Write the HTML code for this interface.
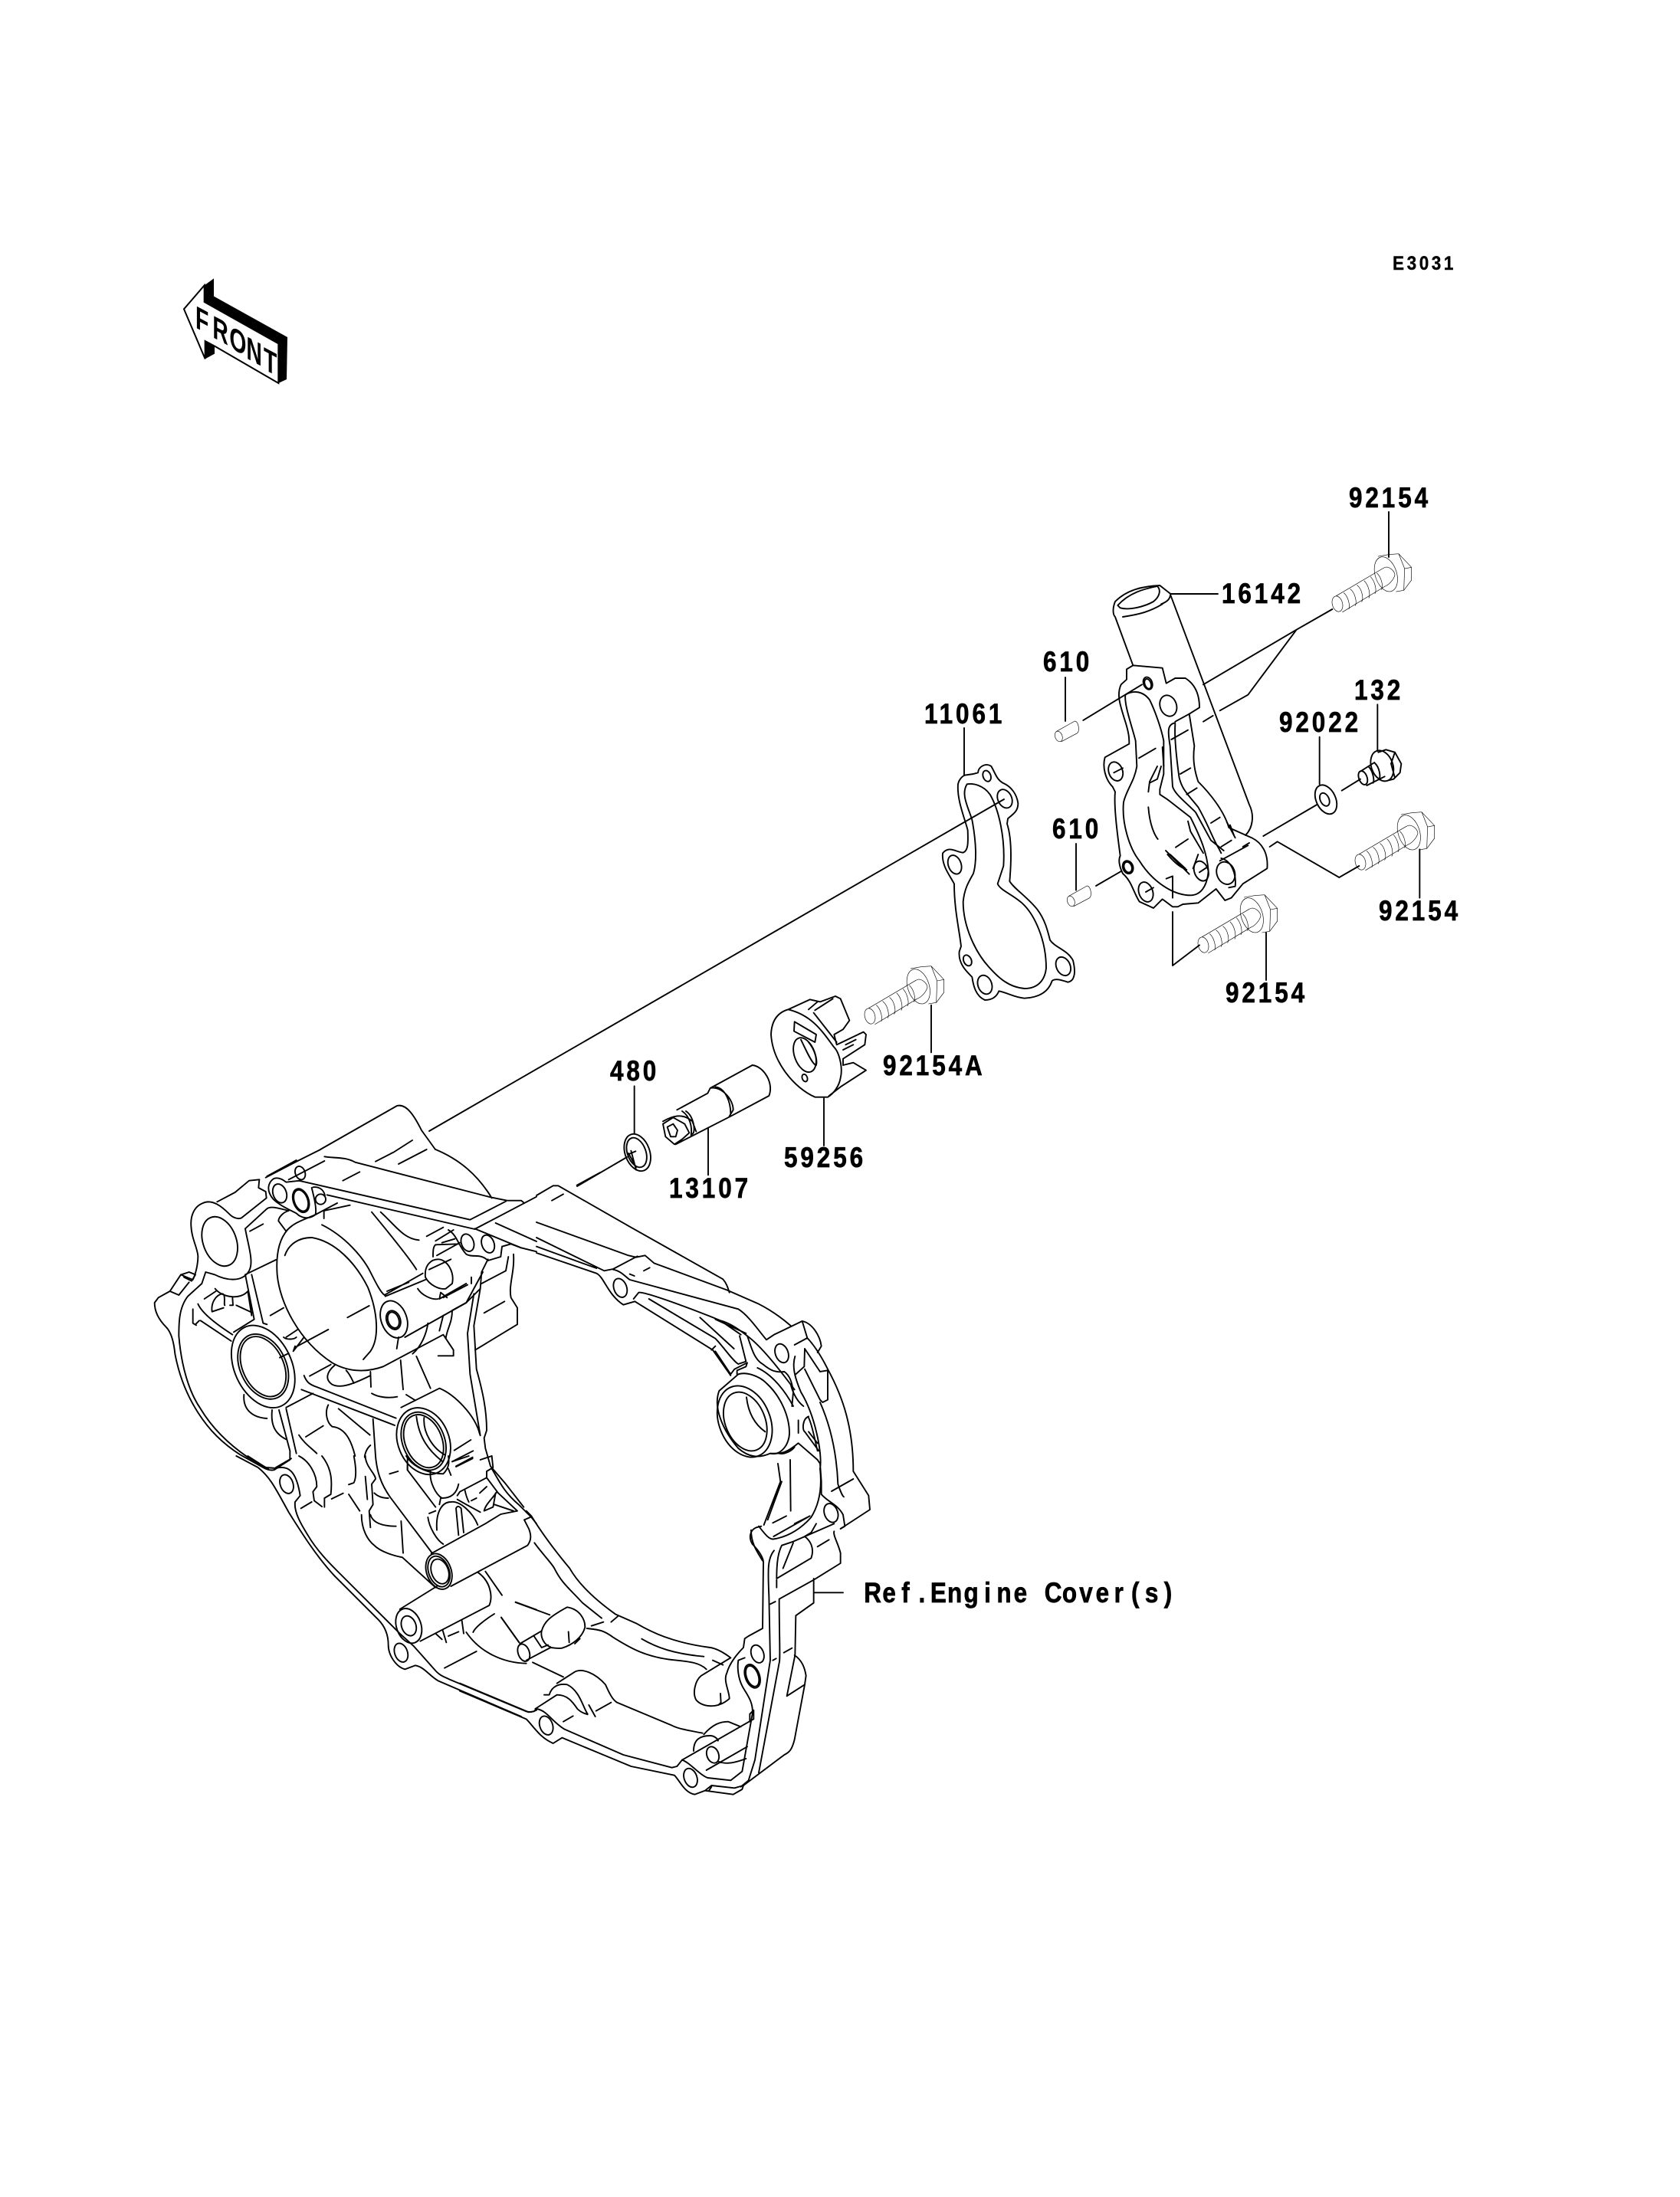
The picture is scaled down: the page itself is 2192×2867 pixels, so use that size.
<!DOCTYPE html>
<html><head><meta charset="utf-8"><style>
html,body{margin:0;padding:0;background:#fff}
svg{display:block}
.l *{vector-effect:non-scaling-stroke}
.l{fill:none;stroke:#000;stroke-width:1.9;stroke-linejoin:round;stroke-linecap:round}
.t{font-family:"Liberation Sans",sans-serif;font-weight:bold;font-size:37px;letter-spacing:4.6px;fill:#000;stroke:#000;stroke-width:.7px}
</style></head><body>
<svg width="2192" height="2867" viewBox="0 0 2192 2867" xmlns="http://www.w3.org/2000/svg">
<rect width="2192" height="2867" fill="#fff"/>
<defs>
<g id="bolt">
<ellipse cx="1065" cy="378" rx="20" ry="31" transform="rotate(-15 1065 378)"/>
<path d="M1060,347 L1245,238 M1085,410 L1250,310 M1245,238 C1265,225 1290,250 1290,265 C1285,285 1265,305 1250,310"/>
<path d="M1090,335 C1108,350 1115,385 1110,398 M1115,320 C1135,335 1142,372 1135,385 M1142,305 C1162,320 1168,358 1160,370 M1170,288 C1188,305 1195,342 1188,355 M1195,272 C1212,290 1220,325 1212,338 M1220,258 C1238,275 1245,310 1238,322"/>
<ellipse cx="1255" cy="262" rx="42" ry="70" transform="rotate(-18 1255 262)"/>
<path d="M1225,192 L1265,185 L1305,182 L1355,235 L1355,285 L1325,325 L1295,330 M1305,182 L1328,240 L1325,325 M1328,240 L1355,235"/>
</g>
<g id="pin">
<ellipse cx="22" cy="1248" rx="14" ry="21" transform="rotate(-20 22 1248)"/>
<path d="M14,1228 L85,1188 C100,1190 105,1225 95,1235 L33,1268"/>
</g>
</defs>

<text class="t" transform="translate(1817,352) scale(.9,1)" style="font-size:25px;letter-spacing:4px;stroke-width:.4px">E3031</text>

<!-- FRONT arrow -->
<g transform="translate(200,340) scale(.33333)">
<path d="M120,190 L200,97 L200,162 L490,325 L490,480 L240,335 L203,315 L203,385 Z" fill="#fff" stroke="#000" stroke-width="6"/>
<path d="M200,97 L237,70 L237,140 L525,300 L522,465 L490,480 L490,325 L200,162 Z M203,315 L240,335 L240,365 L203,385 Z" fill="#000"/>
<g font-family="Liberation Sans,sans-serif" font-weight="bold" font-size="125" fill="#000">
<text transform="translate(165,262) skewY(28) scale(.68,1)">F</text>
<text transform="translate(232,300) skewY(28) scale(.68,1)">R</text>
<text transform="translate(298,340) skewY(28) scale(.68,1)">O</text>
<text transform="translate(364,382) skewY(28) scale(.68,1)">N</text>
<text transform="translate(432,425) skewY(28) scale(.68,1)">T</text>
</g>
</g>

<g class="l">
<!-- full-page leaders -->
<path d="M560,1476 L1310,1043"/>
<path d="M753,1548 L818,1510"/>
<path d="M1812,668 L1812,727 M1258,950 L1258,1012 M1390,884 L1390,941 M1652,1217 L1652,1279"/>
<path d="M418,1500 L518,1443 C530,1440 540,1455 550,1475 L568,1500 M513,1504 L538,1488"/>

<!-- Z7 upper-left engine -->
<g transform="translate(200,1500) scale(.33333)">
<path d="M440,110 L565,45 M445,105 L560,42 M250,205 L320,168 L375,122 L415,118 M530,118 L670,45 M565,45 L655,0 M742,122 L808,88 M870,47 L938,12 M960,57 L1070,0"/>
<path d="M670,28 C710,35 750,28 790,50 L1320,187 L1385,200 L1440,200 L1450,208 M1105,0 C1200,40 1270,100 1325,190"/>
<path d="M570,122 L1240,275 L1380,203 M680,178 L1258,312 L1500,185 M1340,288 L1500,360 M1258,310 L1440,385 L1500,400"/>
<ellipse cx="495" cy="172" rx="26" ry="38" transform="rotate(-20 495 172)"/>
<ellipse cx="578" cy="200" rx="30" ry="48" transform="rotate(-20 578 200)"/>
<ellipse cx="578" cy="200" rx="26" ry="43" transform="rotate(-20 578 200)"/>
<ellipse cx="575" cy="92" rx="19" ry="27" transform="rotate(-20 575 92)"/>
<ellipse cx="655" cy="195" rx="20" ry="20"/>
<path d="M625,148 C640,145 665,150 672,180 M620,150 C630,190 640,230 635,255"/>
<path d="M415,118 L412,150 L440,165 L443,190 L345,268 C330,275 310,265 300,255 C270,225 230,190 190,212 C160,225 145,260 148,300 C150,350 175,390 175,420 C175,450 165,490 155,510 L130,500 L108,490 L65,555 L20,580 L5,600 C5,640 25,670 50,695 C70,715 80,750 85,800 C100,880 130,960 175,1030 C220,1100 270,1150 340,1195 L430,1245 C445,1255 470,1260 480,1250"/>
<path d="M470,115 C450,130 440,160 470,195 C490,215 520,230 560,250 C580,270 610,275 635,255 L720,210 M470,115 C490,105 510,120 520,128 L575,122"/>
<path d="M360,310 C370,370 395,440 375,475 C350,520 290,515 240,490 L205,480 L190,525 L135,575 C100,620 100,680 100,730 C110,850 140,950 185,1015 C230,1090 290,1150 370,1205 L450,1250"/>
<path d="M360,310 L445,232 C460,220 490,230 530,240 M530,240 C510,245 490,265 490,280 L520,320 M110,490 L140,480 L165,490 L150,515 L120,500 M65,555 L100,570 L140,520"/>
<ellipse cx="260" cy="360" rx="65" ry="100" transform="rotate(-20 260 360)"/>
<path d="M378,320 L430,292"/>
<path d="M525,315 C490,355 480,420 485,490 C495,600 570,750 700,835 C760,870 830,875 900,850 L1135,725 L1175,785 L1175,808 L1115,808 M515,415 C530,370 570,345 620,345 C710,360 790,440 840,540 C880,640 885,740 850,790 L822,822 M660,295 C750,340 820,420 850,480 C870,520 890,560 905,570 M520,320 C550,285 590,275 635,255 M668,270 L668,240 L770,218 M855,245 C900,300 1000,420 1030,470 M890,245 C950,300 980,350 1040,355 M760,658 L845,612 M458,650 L510,620 M555,775 L685,705 M360,490 L480,432"/>
<path d="M242,545 C270,580 340,590 370,555 L385,650 M385,490 L430,680 L445,685 M360,490 L395,665 L315,715 M180,670 L165,685 M185,670 L305,750 M175,605 C190,640 240,680 310,725 M155,625 L155,680 L168,688 M200,585 L245,555 M230,635 C225,600 245,570 270,565 C285,565 275,610 280,610 M230,635 L275,620 M310,580 L312,610 L300,610 M325,610 L390,640"/>
<ellipse cx="430" cy="850" rx="112" ry="170" transform="rotate(-25 430 850)"/>
<ellipse cx="430" cy="850" rx="90" ry="134" transform="rotate(-25 430 850)"/>
<ellipse cx="430" cy="850" rx="80" ry="124" transform="rotate(-25 430 850)"/>
<path d="M355,960 C350,1020 390,1050 445,1053 M465,1020 C460,1070 470,1110 520,1135 M492,1020 L535,1180 L535,1215 L480,1250 M520,1015 L560,1190"/>
<path d="M520,1010 L625,955 M495,815 L530,798 M590,885 C600,910 610,920 640,930 L950,1052 M580,940 L945,1080 M612,887 L695,842 M710,845 C680,870 670,900 700,920 C730,935 770,925 850,885 M755,865 C770,880 780,905 785,915 M850,870 L852,930 M855,955 C880,970 920,975 955,968 M968,825 L978,940 M1030,810 L1085,935 M990,960 L1025,982 M520,735 L565,705 M510,735 C520,745 550,745 560,735 M555,770 L548,790 L590,735"/>
<ellipse cx="942" cy="665" rx="50" ry="75" transform="rotate(-20 942 665)"/>
<ellipse cx="940" cy="668" rx="27" ry="38" transform="rotate(-20 940 668)"/>
<ellipse cx="940" cy="668" rx="21" ry="32" transform="rotate(-20 940 668)"/>
<path d="M905,570 L1055,485 M915,555 L1000,520 M908,575 L1065,510 M985,735 L1225,600 L1290,480 M960,735 L953,780 M1065,500 C1060,450 1090,430 1115,430 C1150,430 1180,480 1170,525 L1145,545 C1120,550 1080,530 1065,500 M1080,470 L1165,430 M1105,358 L1175,315 M1070,340 L1135,305 M1130,365 L1180,350 M1095,420 C1095,400 1095,380 1105,373 L1195,370 M1110,415 L1200,365"/>
<ellipse cx="1230" cy="365" rx="24" ry="35" transform="rotate(-20 1230 365)"/>
<ellipse cx="1310" cy="370" rx="24" ry="36" transform="rotate(-20 1310 370)"/>
<path d="M1155,315 C1190,335 1195,380 1225,410 C1250,425 1280,405 1310,435 L1360,420 L1365,380 L1400,370 L1440,385 M1390,420 L1380,475 L1285,525 M1310,430 L1285,480 L1280,545 L1225,600 L1170,630 M1150,580 L1125,560 L1120,585 L1225,525 M1135,580 L1230,530 M1245,500 L1245,525 M1035,545 C1050,570 1090,590 1115,585 M1170,630 C1170,680 1150,700 1145,740 M1135,650 L1120,710 M1075,680 C1070,720 1050,770 1015,800"/>
<path d="M1410,410 C1415,480 1390,530 1400,580 L1425,620 L1425,685 L1260,785 M1295,640 L1375,595 M1255,565 L1230,720 L1240,880 L1260,1000 L1280,1120 M1280,545 L1255,690 L1265,860 C1290,950 1305,1020 1305,1100 L1295,1130 L1300,1170 L1320,1240 L1380,1310 L1450,1400 M970,1010 L1120,935 C1180,960 1260,1040 1278,1115"/>
<ellipse cx="1058" cy="1142" rx="100" ry="135" transform="rotate(-22 1058 1142)"/>
<ellipse cx="1058" cy="1142" rx="82" ry="118" transform="rotate(-22 1058 1142)"/>
<ellipse cx="1058" cy="1142" rx="72" ry="108" transform="rotate(-22 1058 1142)"/>
<path d="M1030,1045 C1040,1130 1080,1180 1130,1220 M1060,1050 C1055,1110 1095,1170 1140,1195 M1178,1178 L1243,1137 M1170,1222 L1252,1180 M1185,1240 L1250,1205"/>
<path d="M860,1055 L870,1200 M995,1200 L995,1255 M685,1000 C670,1030 680,1070 700,1085 C760,1090 780,1160 790,1200 M725,1015 L848,1118 M570,1118 C590,1150 620,1170 640,1190 M597,1125 L665,1082 M850,1158 C825,1180 825,1220 830,1200"/>
</g>

<!-- Z12 lower-left engine -->
<g transform="translate(280,1900) scale(.33333)">
<path d="M85,0 L170,45 C220,85 240,130 290,220 C340,300 400,395 470,470 L640,640 C665,665 680,700 680,740 C680,780 710,825 745,835 L785,820 C820,825 840,860 875,880 L1200,1020"/>
<path d="M240,45 L300,10 M130,0 L200,45 L240,48 C290,35 320,60 335,155 L315,180 C310,220 340,270 365,310 C400,370 450,420 480,450 L650,620 L725,695 L780,745 L860,835 C880,860 900,865 920,875 L1220,1000 C1235,1005 1250,1000 1260,995"/>
<ellipse cx="282" cy="110" rx="25" ry="38" transform="rotate(-20 282 110)"/>
<ellipse cx="730" cy="770" rx="25" ry="38" transform="rotate(-20 730 770)"/>
<path d="M338,205 L380,180 M330,0 C370,20 400,70 400,120 L385,140 L390,175 L420,198 M420,0 C460,50 460,100 455,150 L430,165 L430,200 M458,168 L503,146 M545,0 C555,50 555,85 545,105 L525,112 M590,80 L598,170 M590,0 C590,40 630,70 630,90 L615,110 L620,190 L605,215 L610,280 M525,150 L568,215 M625,145 C640,160 660,165 680,165 M685,70 L718,60 M630,0 C635,60 650,110 690,165 L850,378 M755,35 L755,55 L865,200 M610,230 C620,265 660,275 710,275 M730,255 L738,380 M575,230 C575,290 600,330 625,350 C650,375 700,390 735,397 L865,515"/>
<path d="M845,60 C840,100 865,150 890,165 C910,165 945,160 955,110 M885,165 L880,190 M925,75 L915,50 M750,0 C780,50 850,70 895,70 C915,50 920,30 915,0 M930,22 L995,0 M945,42 L1010,10 M1040,15 L1085,0"/>
<path d="M835,240 C840,280 870,330 895,345 M840,225 L865,215 M870,290 C865,220 890,180 925,180 C960,175 1010,220 1030,270 M945,205 C950,195 955,195 965,205 L975,300 M945,205 L955,310"/>
<ellipse cx="878" cy="452" rx="48" ry="72" transform="rotate(-20 878 452)"/>
<ellipse cx="878" cy="452" rx="40" ry="62" transform="rotate(-20 878 452)"/>
<ellipse cx="882" cy="452" rx="33" ry="50" transform="rotate(-20 882 452)"/>
<path d="M848,382 L1060,265 L1120,228 L1185,215 M925,510 L1225,350 C1240,330 1240,310 1230,285 L1212,250 L1235,240 M1065,60 L1065,85 L960,140 L950,155 M1065,60 L1090,45 L1085,0 M1065,85 L1110,145 L1185,215 M1085,50 C1110,90 1130,140 1190,190 L1210,210 L1240,240 L1260,265 M980,135 C985,160 990,170 995,180 M950,170 L985,190 L1040,220 M1005,175 L1025,165 M1038,145 L1065,120 M1105,140 C1085,170 1060,190 1055,215 L1090,200 L1100,145 M1095,190 L1170,215"/>
<ellipse cx="760" cy="665" rx="48" ry="70" transform="rotate(-20 760 665)"/>
<ellipse cx="760" cy="665" rx="28" ry="40" transform="rotate(-20 760 665)"/>
<path d="M725,600 L870,510 M805,725 L1075,585 C1090,550 1080,490 1030,455 M1060,452 L1125,545 M1178,572 L1260,602 M1095,618 C1060,640 1020,670 1012,690 M1122,632 L1192,730 M985,690 C1040,770 1130,810 1220,812 M900,830 L1025,765 M865,695 L890,718 M892,680 L907,730 M915,705 L955,688 M968,645 L975,695"/>
</g>

<!-- Z8 lower-right engine -->
<g transform="translate(600,1900) scale(.33333)">
<path d="M260,215 L280,235 C320,300 380,380 430,440 C470,510 540,570 610,620 L690,655 C750,690 830,730 980,750 C1010,755 1040,775 1060,790 M292,340 C320,380 360,420 370,440 C400,500 430,520 480,575 L555,635 M515,665 L562,650 M592,650 L618,628 M497,675 C540,680 560,680 600,710 C650,740 720,790 850,800 C900,805 940,810 965,835 M712,716 C770,750 840,775 955,785 M990,800 L1030,818 M218,573 L352,622 M232,730 L162,632 M285,808 L405,865"/>
<path d="M235,735 L320,685 C330,650 350,630 420,592 C470,600 490,640 490,670 C480,710 440,740 400,752 C380,755 365,750 355,750 L260,800"/>
<ellipse cx="250" cy="770" rx="22" ry="35" transform="rotate(-20 250 770)"/>
<path d="M320,685 C315,710 330,740 355,748 M290,705 L320,750 L345,740 M425,688 L428,730 M450,735 L470,715"/>
<path d="M945,860 C920,880 910,930 925,955 C950,985 1010,990 1055,950 C1055,920 1030,880 1045,850 C1055,810 1090,770 1110,750 L1115,715 L1130,705 L1185,675 L1188,420 C1190,400 1170,370 1145,345 C1130,320 1135,290 1160,280 L1180,275 M945,860 L1060,790 M1020,930 L1022,965 L1012,975"/>
<path d="M380,890 L450,845 C480,830 530,850 570,895 C590,940 600,955 615,965 L830,1055 C860,1070 900,1075 950,1085 M330,935 L350,935 C360,900 390,890 420,895 C470,920 480,980 500,1010 M295,990 L380,935 C420,935 440,960 460,990 C480,1010 500,1010 500,1012 M505,975 L530,1020 M533,998 L592,965 M405,1040 L443,1018"/>
<path d="M0,890 L270,1003 L290,1000 L300,990 C340,995 360,1040 410,1070 L640,1170 L830,1220 L850,1215 L870,1190 M0,920 L260,1030 C290,1060 310,1100 365,1125 L400,1103 L670,1215 L840,1250 C860,1270 880,1320 920,1325 L960,1310 L985,1290 L1075,1300 L1110,1290"/>
<ellipse cx="338" cy="1055" rx="25" ry="38" transform="rotate(-20 338 1055)"/>
<ellipse cx="903" cy="1260" rx="25" ry="38" transform="rotate(-20 903 1260)"/>
<path d="M960,1310 L1070,1325 L1105,1305 L1110,1290 M985,1295 L975,1310 M870,1190 C900,1200 940,1250 970,1260 L1060,1270 L1105,1235 L1145,1010 C1150,960 1120,930 1105,900 C1090,870 1085,830 1090,800 L1115,790"/>
<ellipse cx="1165" cy="775" rx="24" ry="36" transform="rotate(-20 1165 775)"/>
<ellipse cx="1145" cy="862" rx="28" ry="48" transform="rotate(-20 1145 862)"/>
<ellipse cx="1145" cy="862" rx="23" ry="42" transform="rotate(-20 1145 862)"/>
<path d="M870,1190 L1150,1030 L1150,995 L1135,1010 L1135,1040 M955,1090 C990,1050 1020,1040 1050,1040 L1100,1060 M915,1155 C915,1110 940,1095 980,1095 C1000,1095 1015,1115 1010,1115"/>
<ellipse cx="990" cy="1170" rx="23" ry="33" transform="rotate(-20 990 1170)"/>
<path d="M965,1230 L1125,1138 M1010,1195 C1040,1210 1080,1200 1120,1185 M1230,370 C1205,400 1205,440 1210,550 L1215,800 L1155,1190 L1130,1270 L1100,1295 M1250,560 C1250,700 1255,800 1250,810 L1170,1240 M1250,560 L1385,485 M1240,485 L1240,515 M1240,480 L1375,400 C1390,360 1370,330 1350,315 M1265,440 L1305,340 M1240,480 C1240,420 1245,380 1260,350 L1305,335 L1465,265 M1215,580 L1235,570 M1385,480 L1385,575 L1315,625 L1312,780 L1280,940 L1350,895 L1355,860 C1350,830 1340,800 1310,780 M1350,895 L1310,1110 C1300,1150 1290,1160 1270,1170 L1110,1290 M1225,800 L1238,793 M1268,770 L1300,752 M1390,535 L1500,535 M1385,485 L1490,420 L1490,380 C1480,340 1460,310 1465,295 M1400,355 L1445,328"/>
<path d="M1140,290 C1140,340 1160,370 1185,410 M1170,275 C1190,300 1210,330 1230,325 C1290,315 1340,280 1375,240 C1400,200 1420,140 1410,50 M1205,250 L1260,100 M1190,270 L1255,100 L1245,30 M1293,15 L1295,215 M1225,262 L1278,235 M1228,315 L1365,238 M1310,265 L1370,235 M1395,265 L1375,300 L1350,315"/>
</g>

<!-- Z9 upper-right engine -->
<g transform="translate(700,1530) scale(.33333)">
<path d="M0,90 L65,52 L85,52 L370,215 L730,418 C745,435 750,455 755,470 M60,110 L105,85 M158,50 L250,0"/>
<path d="M0,195 L360,325 L390,332 L425,325 L460,355 L745,460 L870,515 C920,540 960,570 995,600 M0,255 L265,385 L300,378 L395,328 M0,290 L235,375 M0,315 L235,395 C265,410 280,480 340,518 L385,505 M300,380 C330,385 350,410 365,420 L790,535 C830,560 870,620 900,655 L930,635 L1040,582 C1080,590 1110,640 1115,680 L1100,705"/>
<ellipse cx="328" cy="452" rx="25" ry="38" transform="rotate(-20 328 452)"/>
<ellipse cx="960" cy="708" rx="25" ry="38" transform="rotate(-20 960 708)"/>
<path d="M365,398 L383,405 M420,385 L443,373 M380,495 L400,470 C430,465 700,570 720,580 C760,590 800,620 825,640 C880,680 950,770 1010,850 M385,505 L690,695 L760,795 M440,495 L700,650 C730,680 770,740 790,750 L820,740 L795,640 M640,568 L773,690 M700,575 L820,630 M720,580 L800,635 M685,695 L700,680 M700,700 L760,790 L775,770 L825,745 L820,760 L785,775 L785,790"/>
<path d="M825,640 C840,680 850,730 885,750 C910,770 930,785 970,780 C985,790 1000,810 1005,860 L1000,915 M865,765 C920,790 970,850 1005,915 M1040,582 L1060,648 L1010,675 M1060,648 C1090,680 1120,730 1140,770 C1200,880 1240,1000 1240,1170 L1300,1265 L1305,1320 L1190,1395 M1050,690 L1048,760 L1015,790 M1050,770 L1110,890 L1120,900 L1140,890 L1140,775 L1110,780 L1050,690 M1012,720 C1000,760 1010,800 1035,860 C1090,950 1120,1100 1110,1160 M995,830 C1005,870 1025,900 1045,915 M1110,900 C1150,990 1175,1100 1180,1220 C1190,1250 1200,1270 1203,1270 M1025,970 L1025,1020 M1065,955 C1040,965 1040,1010 1050,1015 L1105,1090 M1065,1015 L1100,1060 M1065,960 C1080,990 1090,1050 1100,1090 M1025,1060 L1100,1125 L1110,1140 L1115,1210"/>
<path d="M715,855 C690,920 730,1010 790,1080 C830,1115 870,1120 915,1100 C960,1110 990,1060 990,1020 C990,960 960,880 900,825 C870,795 820,780 790,790 L715,855"/>
<ellipse cx="815" cy="975" rx="100" ry="145" transform="rotate(-22 815 975)"/>
<ellipse cx="817" cy="975" rx="78" ry="120" transform="rotate(-22 817 975)"/>
<path d="M822,880 C830,950 860,990 895,1015 M915,1100 L940,1100 C980,1100 1010,1070 1025,1060 M950,1100 C970,1105 1000,1090 1010,1075"/>
<ellipse cx="1153" cy="1333" rx="26" ry="38" transform="rotate(-20 1153 1333)"/>
<path d="M1115,1210 L1115,1260 C1140,1290 1180,1300 1200,1340 L1207,1385 L1190,1395 M1155,1248 L1240,1200"/>
</g>

<!-- Z11 gasket -->
<g transform="translate(1180,980) scale(.33333)">
<path d="M235,95 L270,90 L288,85 C290,60 320,45 340,60 C355,85 360,110 385,125 C420,140 440,170 445,205 C445,240 420,250 405,265 L402,285 C420,340 420,420 412,510 C430,540 480,570 520,620 C550,660 560,700 570,740 C590,770 640,780 660,820 C670,860 670,900 640,905 C610,895 590,890 578,900 C565,940 530,965 470,968 C430,965 400,945 370,940 C360,965 340,975 315,975 C280,960 270,920 265,885 C240,860 210,830 215,785 L222,765 C215,700 195,620 195,520 C180,490 145,450 150,400 C175,370 200,395 230,398 C250,390 250,360 248,310 C235,260 205,190 210,130 C215,105 235,95 235,95Z"/>
<path d="M245,130 C270,125 310,135 335,170 C370,230 395,340 388,450 L365,520 C375,545 420,560 460,595 C510,640 555,740 555,850 C550,900 520,930 470,930 C410,925 370,890 330,845 C280,790 230,690 230,590 C235,540 250,515 270,480 C285,430 280,350 265,270 C250,220 220,170 245,130Z"/>
<ellipse cx="323" cy="98" rx="15" ry="22" transform="rotate(-20 323 98)"/>
<ellipse cx="393" cy="187" rx="27" ry="38" transform="rotate(-25 393 187)"/>
<ellipse cx="197" cy="445" rx="25" ry="38" transform="rotate(-20 197 445)"/>
<ellipse cx="247" cy="820" rx="15" ry="22" transform="rotate(-25 247 820)"/>
<ellipse cx="315" cy="915" rx="27" ry="38" transform="rotate(-20 315 915)"/>
<ellipse cx="622" cy="843" rx="27" ry="38" transform="rotate(-25 622 843)"/>
</g>

<!-- Z10 cover -->
<g transform="translate(1390,760) scale(.33333)">
<path d="M195,75 C240,30 300,15 370,12 L412,45 C410,65 400,75 375,85 M195,75 C185,100 185,125 195,135 M225,135 C290,125 330,115 380,85 M205,90 C250,40 310,25 360,15 C375,30 370,55 345,75 C310,95 250,110 215,100 Z M195,135 L265,325 M412,50 L720,870 C740,910 735,960 705,990"/>
<path d="M265,325 L240,340 L240,380 L218,400 C200,440 215,480 230,530 C250,590 250,610 250,632 L155,685 C145,720 155,770 185,800 L195,820 C190,870 200,960 215,1070 C205,1090 215,1120 225,1140 C260,1170 265,1210 290,1250 L345,1275 L380,1240 L420,1270 L440,1270 L460,1260 L520,1255 L590,1200 L625,1245 L650,1235 L695,1180 L790,1120 C795,1060 770,1020 730,1000 L640,960 C620,890 560,820 520,780 C500,720 500,680 505,640 L485,515 L525,490 C525,440 510,400 470,375 L430,375 L395,395 L380,335 L265,325"/>
<path d="M235,440 C230,480 260,560 275,620 L280,720 C270,780 240,810 228,860 C220,940 250,1040 290,1090 C340,1170 420,1225 490,1225 C530,1225 555,1190 560,1130 C555,1060 530,1000 490,920 L400,850 L370,830 L370,810 L385,750 L385,620 C375,570 350,500 330,460 C300,420 260,425 235,440"/>
<path d="M430,550 C400,555 400,580 410,640 L420,800 C430,830 470,860 510,900 L570,1010 L620,1050 M430,555 C425,620 440,720 445,760 C455,810 480,830 520,880 C560,950 580,1010 600,1040 L610,1060 M485,515 L430,545 M360,720 L330,780 L325,820 M330,785 L360,770 L375,720 M380,645 L385,720"/>
<ellipse cx="323" cy="395" rx="17" ry="25" transform="rotate(-20 323 395)"/>
<ellipse cx="323" cy="397" rx="12" ry="20" transform="rotate(-20 323 397)"/>
<ellipse cx="403" cy="483" rx="32" ry="42" transform="rotate(-20 403 483)"/>
<ellipse cx="197" cy="740" rx="27" ry="38" transform="rotate(-20 197 740)"/>
<ellipse cx="245" cy="1115" rx="20" ry="26" transform="rotate(-20 245 1115)"/>
<ellipse cx="245" cy="1115" rx="15" ry="21" transform="rotate(-20 245 1115)"/>
<ellipse cx="315" cy="1212" rx="27" ry="40" transform="rotate(-20 315 1212)"/>
<ellipse cx="532" cy="1130" rx="27" ry="40" transform="rotate(-20 532 1130)"/>
<ellipse cx="628" cy="1138" rx="35" ry="45" transform="rotate(-20 628 1138)"/>
<path d="M610,1080 C650,1090 670,1140 665,1190 L640,1195 M605,1090 L715,1030"/>
<path d="M70,540 L300,400 M120,1188 L220,1130 M540,400 L905,185 L1045,105 M905,185 L715,440 L605,502 M540,545 L578,522 M415,615 L480,578 M288,688 L353,650 M190,745 L225,727 M450,750 L490,727 M475,830 L515,805 M570,942 L605,920 M610,1035 L650,1010 M695,1035 L720,1020 M432,1037 L480,1005 M775,993 L985,870 M800,1035 L830,1015 L1072,1155 L1150,1110 M1082,815 L1155,770 M525,1135 L555,1115 M315,1212 L345,1195 M632,938 L665,1000 M645,950 L660,990 M520,1065 L500,1120 M393,1050 L485,1142 M400,1065 C430,1100 450,1115 475,1125 M410,1065 L470,1120 M395,1160 L420,1150 L420,1235 M420,1290 L420,1500 L525,1420 M325,880 C330,950 350,990 362,1005 M480,935 L490,975 L540,1060"/>
<path d="M415,45 L597,45 M995,605 L995,790 M1222,478 L1222,660 M1387,1045 L1387,1235 M42,1023 L42,1205"/>
<!-- washer -->
<ellipse cx="1020" cy="850" rx="38" ry="60" transform="rotate(-25 1020 850)"/>
<ellipse cx="1015" cy="850" rx="17" ry="27" transform="rotate(-25 1015 850)"/>
<!-- 132 bolt -->
<ellipse cx="1165" cy="765" rx="16" ry="28" transform="rotate(-20 1165 765)"/>
<path d="M1155,740 L1210,705 M1180,795 L1250,760 M1188,722 C1205,740 1210,775 1205,785 M1212,708 C1230,725 1235,760 1228,772"/>
<ellipse cx="1240" cy="718" rx="42" ry="62" transform="rotate(-20 1240 718)"/>
<path d="M1225,665 L1255,655 L1290,665 L1315,710 L1310,745 L1285,770 L1265,775 M1290,665 L1275,710 L1290,765"/>
<!-- pins -->
<use href="#pin"/>
<use href="#pin" transform="translate(-48,-645)"/>
</g>

<!-- Z3 shaft and impeller -->
<g transform="translate(780,1200) scale(.33333)">
<ellipse cx="155" cy="912" rx="48" ry="75" transform="rotate(-20 155 912)"/>
<ellipse cx="152" cy="912" rx="36" ry="60" transform="rotate(-20 152 912)"/>
<path d="M120,915 L150,970 M130,905 L150,980 M118,920 L148,907"/>
<path d="M255,790 C290,770 330,755 370,790 L385,830 M255,800 L295,775 L340,800 L358,835 L330,860 L300,880 L265,850 Z M272,812 L295,800 L312,825 L305,850 L285,850 Z M305,880 L520,770 L670,690 C690,640 650,575 605,570 L440,660 L430,680 L310,745 M440,660 C480,650 530,700 530,745 L515,770 M460,655 C500,660 520,715 520,760 M345,750 C375,770 385,830 370,840 M330,750 C360,770 370,810 365,845"/>
<path d="M745,352 C700,365 680,400 678,450 C685,560 770,660 850,695 L900,695 C925,680 945,650 950,620 C960,580 945,520 925,500 C880,440 840,375 745,352 M745,352 L830,313 L870,322 L930,300 L950,310 L985,395 L960,430 L925,450 L935,490 L1040,440 L1050,450 L1045,490 L960,545 L960,570 L1000,560 L1050,590 L950,655 L905,690 M850,355 L920,310 M845,365 L935,480 M860,322 L825,352 M770,400 L855,450 L850,480 L768,437 Z M795,470 C810,500 840,570 855,570 M825,480 C850,510 860,550 855,570 M970,490 L1010,470 M960,510 L1000,490"/>
<ellipse cx="810" cy="530" rx="40" ry="70" transform="rotate(-20 810 530)"/>
<ellipse cx="810" cy="620" rx="10" ry="15" transform="rotate(-20 810 620)"/>
<path d="M143,652 L143,838 M432,815 L432,1000 M885,700 L885,885 M1305,335 L1305,520"/>
<use href="#bolt"/>
<use href="#bolt" transform="translate(1830,-1614)"/>
<use href="#bolt" transform="translate(1920,-603)"/>
<use href="#bolt" transform="translate(1305,-279)"/>
</g>
</g>

<text class="t" transform="translate(1760,662) scale(.85,1)">92154</text>
<text class="t" transform="translate(1594,787) scale(.85,1)">16142</text>
<text class="t" transform="translate(1361,876) scale(.85,1)">610</text>
<text class="t" transform="translate(1206,944) scale(.85,1)">11061</text>
<text class="t" transform="translate(1767,913) scale(.85,1)">132</text>
<text class="t" transform="translate(1669,955) scale(.85,1)">92022</text>
<text class="t" transform="translate(1373,1094) scale(.85,1)">610</text>
<text class="t" transform="translate(1799,1201) scale(.85,1)">92154</text>
<text class="t" transform="translate(1599,1308) scale(.85,1)">92154</text>
<text class="t" transform="translate(1152,1403) scale(.85,1)">92154A</text>
<text class="t" transform="translate(796,1410) scale(.85,1)">480</text>
<text class="t" transform="translate(873,1563) scale(.85,1)">13107</text>
<text class="t" transform="translate(1023,1523) scale(.85,1)">59256</text>
<text class="t" transform="translate(0,2091) scale(.85,1)" text-anchor="middle" style="letter-spacing:0" x="1339.6 1364.8 1390 1415.2 1440.4 1465.5 1490.7 1515.9 1541.1 1566.3 1591.5 1616.6 1641.8 1667 1692.2 1717.4 1742.6 1767.8 1792.9">Ref.Engine Cover(s)</text>
</svg>
</body></html>
